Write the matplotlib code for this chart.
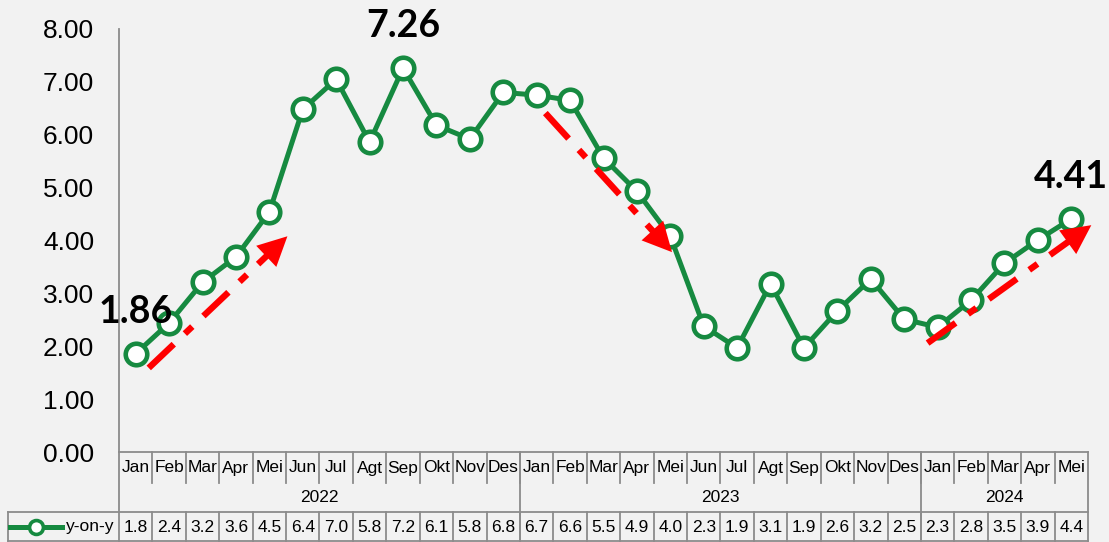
import matplotlib.pyplot as plt
from matplotlib.transforms import blended_transform_factory

months = ["Jan", "Feb", "Mar", "Apr", "Mei", "Jun", "Jul", "Agt", "Sep", "Okt", "Nov", "Des",
          "Jan", "Feb", "Mar", "Apr", "Mei", "Jun", "Jul", "Agt", "Sep", "Okt", "Nov", "Des",
          "Jan", "Feb", "Mar", "Apr", "Mei"]
years = ["2022", "2023", "2024"]
year_counts = [12, 12, 5]

yoy = [1.86, 2.44, 3.21, 3.69, 4.54, 6.48, 7.05, 5.86, 7.26, 6.18, 5.92, 6.80,
       6.75, 6.65, 5.56, 4.93, 4.08, 2.38, 1.97, 3.18, 1.97, 2.67, 3.27, 2.51,
       2.36, 2.87, 3.57, 4.01, 4.41]
table_vals = ["1.8", "2.4", "3.2", "3.6", "4.5", "6.4", "7.0", "5.8", "7.2", "6.1", "5.8", "6.8",
              "6.7", "6.6", "5.5", "4.9", "4.0", "2.3", "1.9", "3.1", "1.9", "2.6", "3.2", "2.5",
              "2.3", "2.8", "3.5", "3.9", "4.4"]
labeled = [0, 8, 28]

# trend arrows (start, tip) in data units
trend_arrows = [((0.39, 1.59), (4.54, 4.08)),
                ((12.26, 6.41), (16.05, 3.78)),
                ((23.7, 2.06), (28.6, 4.29))]

GREEN = "#168a40"
GRID = "#8c8c8c"
BG = "#f2f2f2"
narrow = ["Liberation Sans Narrow", "Liberation Sans", "DejaVu Sans"]

W, H = 1109, 542
fig = plt.figure(figsize=(W / 100, H / 100), dpi=100, facecolor=BG)
ax = fig.add_axes([119 / W, 1 - 452 / H, 969 / W, 423 / H], facecolor=BG)

n = len(yoy)
x = list(range(n))
ax.plot(x, yoy, color=GREEN, lw=3.6, marker="o", ms=15.5, mfc="white",
        mec=GREEN, mew=3.3, zorder=3, solid_joinstyle="round")

ax.set_xlim(-0.5, n - 0.5)
ax.set_ylim(0, 8)
ax.set_yticks(range(0, 9))
ax.set_yticklabels([f"{v:.2f}" for v in range(0, 9)], family=narrow, fontsize=19)
ax.tick_params(axis="y", length=0, pad=18)
ax.set_xticks([])
for s in ["top", "right"]:
    ax.spines[s].set_visible(False)
for s in ["left", "bottom"]:
    ax.spines[s].set_color(GRID)
    ax.spines[s].set_linewidth(1.3)

# value labels
for i in labeled:
    ax.annotate(f"{yoy[i]:.2f}", (i, yoy[i]), xytext=(0, 42), textcoords="offset pixels",
                ha="center", va="center", fontsize=27, fontweight="bold",
                family=["Lato", "DejaVu Sans"], annotation_clip=False, zorder=5)

# red dash-dot trend arrows
for (x0, y0), (x1, y1) in trend_arrows:
    fx = x0 + (x1 - x0) * 0.88
    fy = y0 + (y1 - y0) * 0.88
    ax.plot([x0, fx], [y0, fy], color="red", lw=4.6, dashes=[5.4, 2.4, 1.6, 2.4],
            clip_on=False, zorder=4)
    ax.annotate("", xy=(x1, y1), xytext=(fx, fy), annotation_clip=False, zorder=4,
                arrowprops=dict(arrowstyle="-|>,head_length=1.0,head_width=0.5",
                                mutation_scale=21, color="red", lw=0,
                                shrinkA=0, shrinkB=0))

# data table under the axis
tr = blended_transform_factory(ax.transData, ax.transAxes)


def ay(py):
    return (452 - py) / 423


lk = dict(color=GRID, lw=1.3, clip_on=False, transform=tr)
y_top, y_mon, y_yr, y_bot = ay(452), ay(483), ay(512), ay(541)

for i in range(1, n):
    ax.plot([i - 0.5, i - 0.5], [y_top, y_mon], **lk)
    ax.plot([i - 0.5, i - 0.5], [y_yr, y_bot], **lk)
start = 0
bounds = [-0.5]
for c in year_counts:
    start += c
    bounds.append(start - 0.5)
for b in bounds:
    ax.plot([b, b], [y_top, y_bot], **lk)

for i, m in enumerate(months):
    ax.text(i, ay(468), m, transform=tr, ha="center", va="center",
            fontsize=12.5, family=narrow)
    ax.text(i, ay(527), table_vals[i], transform=tr, ha="center", va="center",
            fontsize=12.5, family=narrow)
for k, yr in enumerate(years):
    ax.text((bounds[k] + bounds[k + 1]) / 2, ay(498), yr, transform=tr,
            ha="center", va="center", fontsize=12.5, family=narrow)

# legend cell
lx = (8 - 119) / 969
ax.plot([lx, 1], [y_yr, y_yr], color=GRID, lw=1.3, clip_on=False, transform=ax.transAxes)
ax.plot([lx, 1], [y_bot, y_bot], color=GRID, lw=1.3, clip_on=False, transform=ax.transAxes)
ax.plot([lx, lx], [y_yr, y_bot], color=GRID, lw=1.3, clip_on=False, transform=ax.transAxes)
ax.plot([(10 - 119) / 969, (62 - 119) / 969], [ay(527)] * 2, color=GREEN, lw=3.6,
        clip_on=False, transform=ax.transAxes)
ax.plot([(36 - 119) / 969], [ay(527)], marker="o", ms=10, mfc="white", mec=GREEN,
        mew=2.6, clip_on=False, transform=ax.transAxes)
ax.text((66 - 119) / 969, ay(527), "y-on-y", transform=ax.transAxes, ha="left",
        va="center", fontsize=12.5, family=narrow)

fig.savefig("out.png", dpi=100, facecolor=BG)
